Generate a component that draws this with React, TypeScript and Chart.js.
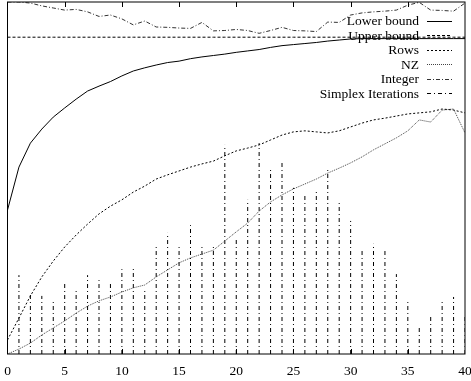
import React, { useEffect, useRef } from "react";
import { Chart, registerables } from "chart.js";

Chart.register(...registerables);

const xValues: number[] = Array.from({ length: 41 }, (_, i) => i);
const xTicks: number[] = [0, 5, 10, 15, 20, 25, 30, 35, 40];

const lowerBound: number[] = [
  40.9, 53.1, 59.9, 63.9, 67.3, 69.9, 72.4, 74.7, 76.1, 77.4, 79.0, 80.4, 81.3, 82.1, 82.8, 83.2, 83.9, 84.4, 84.8, 85.2,
  85.7, 86.1, 86.5, 87.1, 87.6, 87.9, 88.2, 88.5, 88.9, 89.2, 89.5, 89.6, 89.6, 89.6, 89.6, 89.6, 89.6, 89.6, 89.6, 89.6, 89.6,
];
const upperBound: number[] = xValues.map(() => 90.0);
const rows: number[] = [
  4.0, 10.2, 16.5, 21.9, 26.4, 30.4, 33.8, 36.9, 39.8, 42.0, 43.8, 46.0, 47.7, 49.7, 50.9, 52.0, 53.1, 54.0, 54.8, 56.3,
  57.7, 58.5, 59.4, 60.8, 62.2, 63.1, 63.4, 63.1, 62.8, 63.4, 64.5, 65.6, 66.5, 67.0, 67.6, 68.2, 68.5, 68.8, 69.6, 69.3, 68.5,
];
const nz: number[] = [
  0, 1.4, 3.1, 5.4, 7.4, 9.4, 11.6, 13.6, 15.1, 16.2, 17.6, 18.8, 19.6, 21.9, 23.9, 25.9, 27.3, 28.4, 29.5, 32.1,
  34.7, 37.2, 40.6, 43.2, 45.2, 46.9, 48.3, 49.7, 51.4, 52.8, 54.3, 56.0, 58.0, 59.7, 61.4, 63.4, 66.5, 65.9, 69.3, 69.6, 62.8,
];
const integer: number[] = [
  100, 100, 99.7, 98.9, 98.3, 97.7, 97.9, 97.2, 95.9, 96.3, 95.2, 93.5, 94.6, 92.9, 92.8, 92.6, 92.5, 94.2, 91.8, 91.9,
  92.2, 91.9, 91.1, 91.9, 92.8, 91.9, 91.8, 91.6, 94.3, 94.2, 96.3, 96.9, 97.2, 97.4, 97.7, 99.1, 99.9, 97.7, 97.6, 97.4, 99.7,
];
const simplexIterations: number[] = [
  0, 22.4, 17.3, 16.5, 15.6, 20.2, 17.9, 22.4, 21.0, 20.2, 24.1, 25.0, 17.9, 31.0, 34.4, 31.0, 36.6, 31.0, 30.7, 59.4,
  33.2, 43.8, 59.9, 52.6, 54.3, 47.2, 45.2, 46.6, 52.3, 42.9, 37.8, 29.5, 31.3, 29.5, 22.7, 15.6, 7.7, 10.8, 15.6, 16.2, 10.8,
];

const SERIF = "'Liberation Serif', 'Times New Roman', serif";

const pts = (ys: number[]) => ys.map((y, i) => ({ x: xValues[i], y }));
const impulses = (ys: number[]) => {
  const out: { x: number; y: number | null }[] = [];
  ys.forEach((y, i) => {
    if (y <= 0) return;
    out.push({ x: xValues[i], y: 0 });
    out.push({ x: xValues[i], y });
    out.push({ x: xValues[i], y: null });
  });
  return out;
};

export default function App() {
  const ref = useRef<HTMLCanvasElement | null>(null);

  useEffect(() => {
    if (!ref.current) return;

    const frame = {
      id: "gnuFrame",
      afterDatasetsDraw(chart: any) {
        const { ctx, chartArea } = chart;
        const xs = chart.scales.x;
        ctx.save();
        ctx.strokeStyle = "#000";
        ctx.lineWidth = 1;
        ctx.setLineDash([]);
        ctx.strokeRect(chartArea.left, chartArea.top, chartArea.right - chartArea.left, chartArea.bottom - chartArea.top);
        xTicks.forEach((t) => {
          if (t === 0 || t === 40) return;
          const px = Math.round(xs.getPixelForValue(t)) + 0.5;
          ctx.beginPath();
          ctx.moveTo(px, chartArea.top);
          ctx.lineTo(px, chartArea.top + 5);
          ctx.moveTo(px, chartArea.bottom);
          ctx.lineTo(px, chartArea.bottom - 5);
          ctx.stroke();
        });
        // legend
        ctx.font = `13.5px ${SERIF}`;
        ctx.fillStyle = "#000";
        ctx.textAlign = "right";
        ctx.textBaseline = "middle";
        chart.data.datasets.forEach((ds: any, i: number) => {
          const y = 20.5 + i * 14.5;
          ctx.fillText(ds.label, 419, y + 1);
          ctx.beginPath();
          ctx.setLineDash(ds.borderDash || []);
          ctx.strokeStyle = ds.borderColor;
          ctx.lineWidth = ds.borderWidth;
          ctx.moveTo(427, Math.round(y) + 0.5);
          ctx.lineTo(452, Math.round(y) + 0.5);
          ctx.stroke();
        });
        ctx.restore();
      },
    };

    const common = { pointRadius: 0, borderWidth: 1, tension: 0, fill: false, spanGaps: false };

    const chart = new Chart(ref.current, {
      type: "line",
      data: {
        datasets: [
          { label: "Lower bound", data: pts(lowerBound), borderColor: "#000", borderDash: [], ...common },
          { label: "Upper bound", data: pts(upperBound), borderColor: "#000", borderDash: [3, 2], ...common },
          { label: "Rows", data: pts(rows), borderColor: "#000", borderDash: [2, 2], ...common },
          { label: "NZ", data: pts(nz), borderColor: "#444", borderDash: [1, 1], ...common },
          { label: "Integer", data: pts(integer), borderColor: "#333", borderDash: [4, 2, 1, 2], ...common },
          { label: "Simplex Iterations", data: impulses(simplexIterations), borderColor: "#000", borderDash: [4, 3, 1, 3], ...common },
        ],
      },
      options: {
        responsive: false,
        animation: false,
        layout: { padding: { left: 7.5, right: 6, top: 2, bottom: 0 } },
        plugins: { legend: { display: false }, tooltip: { enabled: false } },
        scales: {
          x: {
            type: "linear",
            min: 0,
            max: 40,
            afterBuildTicks: (scale: any) => {
              scale.ticks = xTicks.map((v) => ({ value: v }));
            },
            afterFit: (scale: any) => {
              scale.height = 27;
              scale.paddingLeft = 0;
              scale.paddingRight = 0;
            },
            grid: { display: false, drawTicks: false },
            border: { display: false },
            ticks: {
              padding: 9,
              maxRotation: 0,
              color: "#000",
              font: { family: SERIF, size: 13.5 },
            },
          },
          y: { type: "linear", min: 0, max: 100, display: false },
        },
      },
      plugins: [frame],
    } as any);

    return () => chart.destroy();
  }, []);

  return (
    <div style={{ position: "absolute", left: 0, top: 0, width: 471, height: 381, background: "#fff" }}>
      <canvas ref={ref} width={471} height={381} style={{ display: "block" }} />
    </div>
  );
}
